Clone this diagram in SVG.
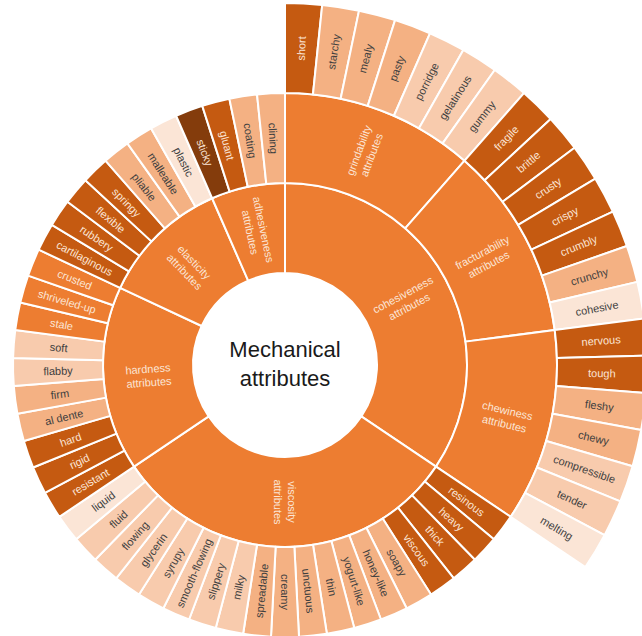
<svg xmlns="http://www.w3.org/2000/svg" xmlns:xlink="http://www.w3.org/1999/xlink" width="642" height="636" viewBox="0 0 642 636">
<style>
path,use{stroke:#fff;stroke-width:2;stroke-linejoin:round}
.c0{fill:#ED7D31}.c1{fill:#C55A11}.c2{fill:#843C0C}.c3{fill:#F4B183}.c4{fill:#F8CBAD}.c5{fill:#FBE5D6}
.t{font-family:"Liberation Sans",Arial,sans-serif;font-size:11px;text-anchor:middle;dominant-baseline:central}
.l{fill:#FBE5D6}.d{fill:#404040}
.ctr{font-family:"Liberation Sans",Arial,sans-serif;font-size:22px;text-anchor:middle;fill:#1a1a1a}
</style>
<defs>
<path id="w2" d="M0,-272A272,272 0 0 1 27.967,-270.558L18.713,-181.035A182,182 0 0 0 0,-182Z"/>
<path id="w3" d="M0,-362A362,362 0 0 1 37.221,-360.081L27.967,-270.558A272,272 0 0 0 0,-272Z"/>
<path id="sub" d="M0,-272A272,272 0 0 1 179.561,-204.308L120.148,-136.706A182,182 0 0 0 0,-182Z"/>
</defs>
<rect width="642" height="636" fill="#fff"/>
<g transform="translate(285,365)">
<g id="center"><circle r="91" fill="#fff"/><text class="ctr" x="0" y="-8">Mechanical</text><text class="ctr" x="0" y="21">attributes</text></g>

<g id="cohesiveness"><path class="c0" d="M0,-182A182,182 0 0 1 151.002,101.599L76.331,51.358A92,92 0 0 0 0,-92Z"/><text class="t l" transform="rotate(61.967) translate(0,-137) rotate(-90)"><tspan x="0" y="-6.75">cohesiveness</tspan><tspan x="0" y="6.75">attributes</tspan></text></g>
<g id="viscosity"><path class="c0" transform="rotate(123.934)" d="M0,-182A182,182 0 0 1 168.592,68.564L85.222,34.659A92,92 0 0 0 0,-92Z"/><text class="t l" transform="rotate(180) translate(0,-137) rotate(-90)"><tspan x="0" y="-6.75">viscosity</tspan><tspan x="0" y="6.75">attributes</tspan></text></g>
<g id="hardness"><path class="c0" transform="rotate(236.066)" d="M0,-182A182,182 0 0 1 156.031,-93.693L78.873,-47.362A92,92 0 0 0 0,-92Z"/><text class="t l" transform="rotate(265.574) translate(0,-137) rotate(90)"><tspan x="0" y="-6.75">hardness</tspan><tspan x="0" y="6.75">attributes</tspan></text></g>
<g id="elasticity"><path class="c0" transform="rotate(295.082)" d="M0,-182A182,182 0 0 1 120.148,-136.706L60.734,-69.104A92,92 0 0 0 0,-92Z"/><text class="t l" transform="rotate(315.738) translate(0,-137) rotate(90)"><tspan x="0" y="-6.75">elasticity</tspan><tspan x="0" y="6.75">attributes</tspan></text></g>
<g id="adhesiveness"><path class="c0" transform="rotate(336.393)" d="M0,-182A182,182 0 0 1 72.884,-166.769L36.843,-84.301A92,92 0 0 0 0,-92Z"/><text class="t l" transform="rotate(348.197) translate(0,-137) rotate(90)"><tspan x="0" y="-6.75">adhesiveness</tspan><tspan x="0" y="6.75">attributes</tspan></text></g>

<g id="grindability"><use href="#sub" class="c0"/><text class="t l" transform="rotate(20.656) translate(0,-227) rotate(-90)"><tspan x="0" y="-6.75">grindability</tspan><tspan x="0" y="6.75">attributes</tspan></text></g>
<g id="fracturability"><use href="#sub" class="c0" transform="rotate(41.3115)"/><text class="t l" transform="rotate(61.967) translate(0,-227) rotate(-90)"><tspan x="0" y="-6.75">fracturability</tspan><tspan x="0" y="6.75">attributes</tspan></text></g>
<g id="chewiness"><use href="#sub" class="c0" transform="rotate(82.623)"/><text class="t l" transform="rotate(103.279) translate(0,-227) rotate(-90)"><tspan x="0" y="-6.75">chewiness</tspan><tspan x="0" y="6.75">attributes</tspan></text></g>

<g id="short"><use href="#w3" class="c1"/><text class="t l" transform="rotate(2.951) translate(0,-317) rotate(-90)">short</text></g>
<g id="starchy"><use href="#w3" class="c3" transform="rotate(5.9016)"/><text class="t d" transform="rotate(8.852) translate(0,-317) rotate(-90)">starchy</text></g>
<g id="mealy"><use href="#w3" class="c3" transform="rotate(11.8033)"/><text class="t d" transform="rotate(14.754) translate(0,-317) rotate(-90)">mealy</text></g>
<g id="pasty"><use href="#w3" class="c3" transform="rotate(17.7049)"/><text class="t d" transform="rotate(20.656) translate(0,-317) rotate(-90)">pasty</text></g>
<g id="porridge"><use href="#w3" class="c4" transform="rotate(23.6066)"/><text class="t d" transform="rotate(26.557) translate(0,-317) rotate(-90)">porridge</text></g>
<g id="gelatinous"><use href="#w3" class="c4" transform="rotate(29.5082)"/><text class="t d" transform="rotate(32.459) translate(0,-317) rotate(-90)">gelatinous</text></g>
<g id="gummy"><use href="#w3" class="c4" transform="rotate(35.4098)"/><text class="t d" transform="rotate(38.361) translate(0,-317) rotate(-90)">gummy</text></g>
<g id="fragile"><use href="#w3" class="c1" transform="rotate(41.3115)"/><text class="t l" transform="rotate(44.262) translate(0,-317) rotate(-90)">fragile</text></g>
<g id="brittle"><use href="#w3" class="c1" transform="rotate(47.2131)"/><text class="t l" transform="rotate(50.164) translate(0,-317) rotate(-90)">brittle</text></g>
<g id="crusty"><use href="#w3" class="c1" transform="rotate(53.1148)"/><text class="t l" transform="rotate(56.066) translate(0,-317) rotate(-90)">crusty</text></g>
<g id="crispy"><use href="#w3" class="c1" transform="rotate(59.0164)"/><text class="t l" transform="rotate(61.967) translate(0,-317) rotate(-90)">crispy</text></g>
<g id="crumbly"><use href="#w3" class="c1" transform="rotate(64.918)"/><text class="t l" transform="rotate(67.869) translate(0,-317) rotate(-90)">crumbly</text></g>
<g id="crunchy"><use href="#w3" class="c3" transform="rotate(70.8197)"/><text class="t d" transform="rotate(73.770) translate(0,-317) rotate(-90)">crunchy</text></g>
<g id="cohesive"><use href="#w3" class="c5" transform="rotate(76.7213)"/><text class="t d" transform="rotate(79.672) translate(0,-317) rotate(-90)">cohesive</text></g>
<g id="nervous"><use href="#w3" class="c1" transform="rotate(82.623)"/><text class="t l" transform="rotate(85.574) translate(0,-317) rotate(-90)">nervous</text></g>
<g id="tough"><use href="#w3" class="c1" transform="rotate(88.5246)"/><text class="t l" transform="rotate(91.475) translate(0,-317) rotate(-90)">tough</text></g>
<g id="fleshy"><use href="#w3" class="c3" transform="rotate(94.4262)"/><text class="t d" transform="rotate(97.377) translate(0,-317) rotate(-90)">fleshy</text></g>
<g id="chewy"><use href="#w3" class="c3" transform="rotate(100.3279)"/><text class="t d" transform="rotate(103.279) translate(0,-317) rotate(-90)">chewy</text></g>
<g id="compressible"><use href="#w3" class="c4" transform="rotate(106.2295)"/><text class="t d" transform="rotate(109.180) translate(0,-317) rotate(-90)">compressible</text></g>
<g id="tender"><use href="#w3" class="c4" transform="rotate(112.1311)"/><text class="t d" transform="rotate(115.082) translate(0,-317) rotate(-90)">tender</text></g>
<g id="melting"><use href="#w3" class="c5" transform="rotate(118.0328)"/><text class="t d" transform="rotate(120.984) translate(0,-317) rotate(-90)">melting</text></g>

<g id="resinous"><use href="#w2" class="c1" transform="rotate(123.9344)"/><text class="t l" transform="rotate(126.885) translate(0,-227) rotate(-90)">resinous</text></g>
<g id="heavy"><use href="#w2" class="c1" transform="rotate(129.8361)"/><text class="t l" transform="rotate(132.787) translate(0,-227) rotate(-90)">heavy</text></g>
<g id="thick"><use href="#w2" class="c1" transform="rotate(135.7377)"/><text class="t l" transform="rotate(138.689) translate(0,-227) rotate(-90)">thick</text></g>
<g id="viscous"><use href="#w2" class="c1" transform="rotate(141.6393)"/><text class="t l" transform="rotate(144.590) translate(0,-227) rotate(-90)">viscous</text></g>
<g id="soapy"><use href="#w2" class="c3" transform="rotate(147.541)"/><text class="t d" transform="rotate(150.492) translate(0,-227) rotate(-90)">soapy</text></g>
<g id="honey-like"><use href="#w2" class="c3" transform="rotate(153.4426)"/><text class="t d" transform="rotate(156.393) translate(0,-227) rotate(-90)">honey-like</text></g>
<g id="yogurt-like"><use href="#w2" class="c3" transform="rotate(159.3443)"/><text class="t d" transform="rotate(162.295) translate(0,-227) rotate(-90)">yogurt-like</text></g>
<g id="thin"><use href="#w2" class="c3" transform="rotate(165.2459)"/><text class="t d" transform="rotate(168.197) translate(0,-227) rotate(-90)">thin</text></g>
<g id="unctuous"><use href="#w2" class="c3" transform="rotate(171.1475)"/><text class="t d" transform="rotate(174.098) translate(0,-227) rotate(-90)">unctuous</text></g>
<g id="creamy"><use href="#w2" class="c3" transform="rotate(177.0492)"/><text class="t d" transform="rotate(180) translate(0,-227) rotate(-90)">creamy</text></g>
<g id="spreadable"><use href="#w2" class="c3" transform="rotate(182.9508)"/><text class="t d" transform="rotate(185.902) translate(0,-227) rotate(90)">spreadable</text></g>
<g id="milky"><use href="#w2" class="c4" transform="rotate(188.8525)"/><text class="t d" transform="rotate(191.803) translate(0,-227) rotate(90)">milky</text></g>
<g id="slippery"><use href="#w2" class="c4" transform="rotate(194.7541)"/><text class="t d" transform="rotate(197.705) translate(0,-227) rotate(90)">slippery</text></g>
<g id="smooth-flowing"><use href="#w2" class="c4" transform="rotate(200.6557)"/><text class="t d" transform="rotate(203.607) translate(0,-227) rotate(90)">smooth-flowing</text></g>
<g id="syrupy"><use href="#w2" class="c4" transform="rotate(206.5574)"/><text class="t d" transform="rotate(209.508) translate(0,-227) rotate(90)">syrupy</text></g>
<g id="glycerin"><use href="#w2" class="c4" transform="rotate(212.459)"/><text class="t d" transform="rotate(215.410) translate(0,-227) rotate(90)">glycerin</text></g>
<g id="flowing"><use href="#w2" class="c4" transform="rotate(218.3607)"/><text class="t d" transform="rotate(221.311) translate(0,-227) rotate(90)">flowing</text></g>
<g id="fluid"><use href="#w2" class="c4" transform="rotate(224.2623)"/><text class="t d" transform="rotate(227.213) translate(0,-227) rotate(90)">fluid</text></g>
<g id="liquid"><use href="#w2" class="c5" transform="rotate(230.1639)"/><text class="t d" transform="rotate(233.115) translate(0,-227) rotate(90)">liquid</text></g>

<g id="resistant"><use href="#w2" class="c1" transform="rotate(236.0656)"/><text class="t l" transform="rotate(239.016) translate(0,-227) rotate(90)">resistant</text></g>
<g id="rigid"><use href="#w2" class="c1" transform="rotate(241.9672)"/><text class="t l" transform="rotate(244.918) translate(0,-227) rotate(90)">rigid</text></g>
<g id="hard"><use href="#w2" class="c1" transform="rotate(247.8689)"/><text class="t l" transform="rotate(250.820) translate(0,-227) rotate(90)">hard</text></g>
<g id="al-dente"><use href="#w2" class="c3" transform="rotate(253.7705)"/><text class="t d" transform="rotate(256.721) translate(0,-227) rotate(90)">al dente</text></g>
<g id="firm"><use href="#w2" class="c3" transform="rotate(259.6721)"/><text class="t d" transform="rotate(262.623) translate(0,-227) rotate(90)">firm</text></g>
<g id="flabby"><use href="#w2" class="c4" transform="rotate(265.5738)"/><text class="t d" transform="rotate(268.525) translate(0,-227) rotate(90)">flabby</text></g>
<g id="soft"><use href="#w2" class="c4" transform="rotate(271.4754)"/><text class="t d" transform="rotate(274.426) translate(0,-227) rotate(90)">soft</text></g>
<g id="stale"><use href="#w2" class="c0" transform="rotate(277.377)"/><text class="t l" transform="rotate(280.328) translate(0,-227) rotate(90)">stale</text></g>
<g id="shriveled-up"><use href="#w2" class="c0" transform="rotate(283.2787)"/><text class="t l" transform="rotate(286.230) translate(0,-227) rotate(90)">shriveled-up</text></g>
<g id="crusted"><use href="#w2" class="c0" transform="rotate(289.1803)"/><text class="t l" transform="rotate(292.131) translate(0,-227) rotate(90)">crusted</text></g>

<g id="cartilaginous"><use href="#w2" class="c1" transform="rotate(295.082)"/><text class="t l" transform="rotate(298.033) translate(0,-227) rotate(90)">cartilaginous</text></g>
<g id="rubbery"><use href="#w2" class="c1" transform="rotate(300.9836)"/><text class="t l" transform="rotate(303.934) translate(0,-227) rotate(90)">rubbery</text></g>
<g id="flexible"><use href="#w2" class="c1" transform="rotate(306.8852)"/><text class="t l" transform="rotate(309.836) translate(0,-227) rotate(90)">flexible</text></g>
<g id="springy"><use href="#w2" class="c1" transform="rotate(312.7869)"/><text class="t l" transform="rotate(315.738) translate(0,-227) rotate(90)">springy</text></g>
<g id="pliable"><use href="#w2" class="c3" transform="rotate(318.6885)"/><text class="t d" transform="rotate(321.639) translate(0,-227) rotate(90)">pliable</text></g>
<g id="malleable"><use href="#w2" class="c3" transform="rotate(324.5902)"/><text class="t d" transform="rotate(327.541) translate(0,-227) rotate(90)">malleable</text></g>
<g id="plastic"><use href="#w2" class="c5" transform="rotate(330.4918)"/><text class="t d" transform="rotate(333.443) translate(0,-227) rotate(90)">plastic</text></g>

<g id="sticky"><use href="#w2" class="c2" transform="rotate(336.3934)"/><text class="t l" transform="rotate(339.344) translate(0,-227) rotate(90)">sticky</text></g>
<g id="gluant"><use href="#w2" class="c1" transform="rotate(342.2951)"/><text class="t l" transform="rotate(345.246) translate(0,-227) rotate(90)">gluant</text></g>
<g id="coating"><use href="#w2" class="c3" transform="rotate(348.1967)"/><text class="t d" transform="rotate(351.148) translate(0,-227) rotate(90)">coating</text></g>
<g id="clining"><use href="#w2" class="c3" transform="rotate(354.0984)"/><text class="t d" transform="rotate(357.049) translate(0,-227) rotate(90)">clining</text></g>
</g>
</svg>
